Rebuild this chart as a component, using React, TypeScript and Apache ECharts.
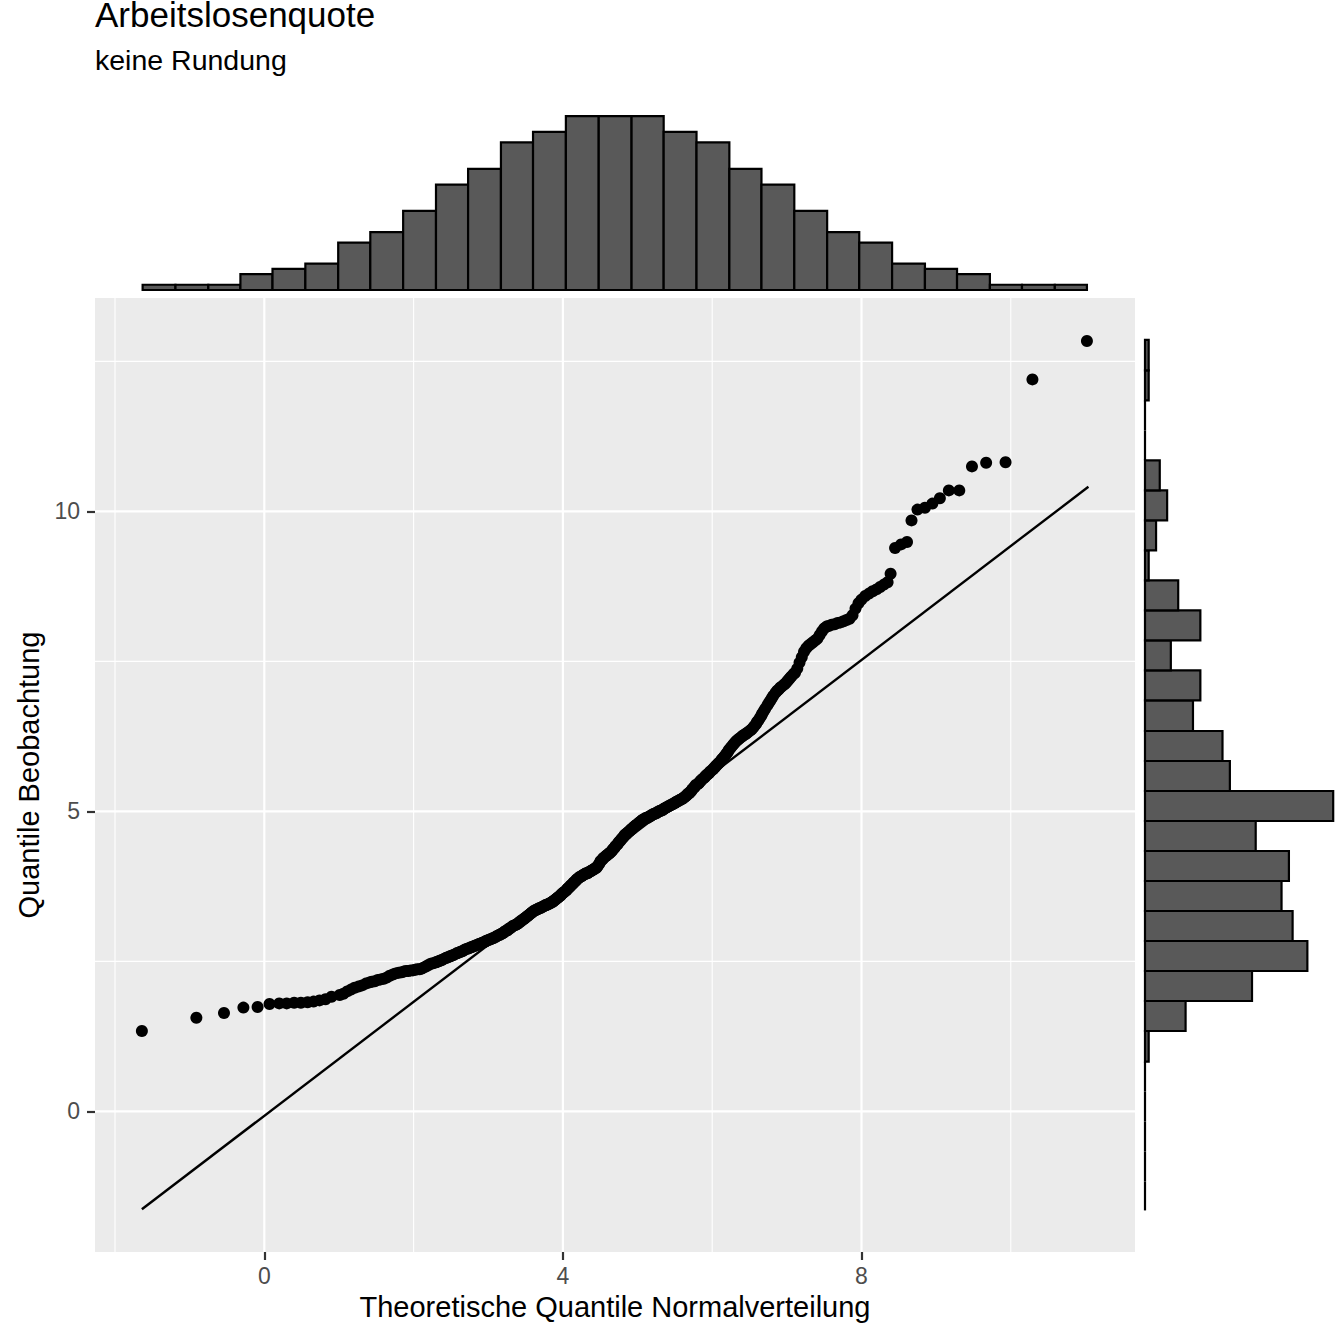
import React, { useEffect, useRef } from "react";
import * as echarts from "echarts";

const FONT = "'Liberation Sans', Arial, Helvetica, sans-serif";

const TITLE = "Arbeitslosenquote";
const SUBTITLE = "keine Rundung";
const X_TITLE = "Theoretische Quantile Normalverteilung";
const Y_TITLE = "Quantile Beobachtung";

// axis ranges and ticks
const xRange = [-2.268, 11.664];
const yRange = [-2.343, 13.557];
const xMajorTicks = [0, 4, 8];
const xMinorTicks = [-2, 2, 6, 10];
const yMajorTicks = [0, 5, 10];
const yMinorTicks = [2.5, 7.5, 12.5];

const theoretical = [
  -1.64,
  -0.91,
  -0.54,
  -0.28, -0.09, 0.07,
  0.20, 0.30, 0.40, 0.49,
  0.58, 0.66, 0.74, 0.82, 0.90,
  1.01, 1.06, 1.11, 1.16, 1.21, 1.26, 1.31, 1.36, 1.41,
  1.44, 1.48, 1.52, 1.56, 1.60, 1.64, 1.68, 1.72, 1.76, 1.80, 1.84,
  1.87, 1.90, 1.93, 1.96, 1.99, 2.02, 2.05, 2.08, 2.11, 2.14, 2.17, 2.20, 2.23, 2.26, 2.29,
  2.31, 2.33, 2.35, 2.37, 2.39, 2.42, 2.44, 2.46, 2.48, 2.50, 2.52, 2.54, 2.57, 2.59, 2.61, 2.63, 2.65, 2.67, 2.69, 2.72,
  2.74, 2.76, 2.78, 2.80, 2.82, 2.84, 2.86, 2.88, 2.90, 2.92, 2.94, 2.96, 2.97, 2.99, 3.01, 3.03, 3.05, 3.07, 3.09, 3.11, 3.13, 3.15, 3.16,
  3.18, 3.19, 3.21, 3.22, 3.24, 3.26, 3.27, 3.29, 3.30, 3.32, 3.33, 3.35, 3.37, 3.38, 3.40, 3.41, 3.43, 3.44, 3.46, 3.48, 3.49, 3.51, 3.52, 3.54, 3.55, 3.57, 3.58, 3.60,
  3.61, 3.63, 3.64, 3.66, 3.67, 3.68, 3.70, 3.71, 3.73, 3.74, 3.76, 3.77, 3.78, 3.80, 3.81, 3.83, 3.84, 3.86, 3.87, 3.88, 3.90, 3.91, 3.93, 3.94, 3.96, 3.97, 3.98, 4.00, 4.01, 4.03,
  4.05, 4.06, 4.07, 4.09, 4.10, 4.11, 4.13, 4.14, 4.15, 4.17, 4.18, 4.19, 4.21, 4.22, 4.23, 4.25, 4.26, 4.27, 4.29, 4.30, 4.31, 4.33, 4.34, 4.35, 4.37, 4.38, 4.39, 4.41, 4.42, 4.43, 4.45, 4.46, 4.47,
  4.49, 4.50, 4.51, 4.53, 4.54, 4.55, 4.57, 4.58, 4.59, 4.61, 4.62, 4.63, 4.65, 4.66, 4.67, 4.69, 4.70, 4.71, 4.73, 4.74, 4.75, 4.77, 4.78, 4.79, 4.81, 4.82, 4.83, 4.85, 4.86, 4.87, 4.89, 4.90, 4.91,
  4.93, 4.94, 4.95, 4.97, 4.98, 4.99, 5.01, 5.02, 5.03, 5.05, 5.06, 5.07, 5.09, 5.10, 5.11, 5.13, 5.14, 5.15, 5.17, 5.18, 5.19, 5.21, 5.22, 5.23, 5.25, 5.26, 5.27, 5.29, 5.30, 5.31, 5.33, 5.34, 5.35,
  5.36, 5.38, 5.39, 5.41, 5.42, 5.44, 5.45, 5.47, 5.48, 5.50, 5.51, 5.52, 5.54, 5.55, 5.57, 5.58, 5.60, 5.61, 5.63, 5.64, 5.66, 5.67, 5.69, 5.70, 5.72, 5.73, 5.74, 5.76, 5.77, 5.78,
  5.80, 5.82, 5.83, 5.85, 5.86, 5.88, 5.90, 5.91, 5.93, 5.94, 5.96, 5.97, 5.99, 6.01, 6.02, 6.04, 6.05, 6.07, 6.08, 6.10, 6.12, 6.13, 6.15, 6.16, 6.18, 6.19, 6.21, 6.22,
  6.24, 6.26, 6.28, 6.30, 6.32, 6.34, 6.36, 6.38, 6.40, 6.41, 6.43, 6.45, 6.47, 6.49, 6.51, 6.53, 6.55, 6.57, 6.59, 6.60, 6.62, 6.64, 6.66,
  6.67, 6.69, 6.71, 6.74, 6.76, 6.78, 6.80, 6.82, 6.85, 6.87, 6.89, 6.91, 6.93, 6.96, 6.98, 7.00, 7.02, 7.04, 7.06, 7.09,
  7.11, 7.14, 7.17, 7.20, 7.23, 7.26, 7.29, 7.32, 7.35, 7.38, 7.41, 7.44, 7.47, 7.50, 7.53,
  7.56, 7.60, 7.64, 7.68, 7.72, 7.76, 7.80, 7.84, 7.88, 7.92, 7.96,
  8.00, 8.05, 8.10, 8.15, 8.20, 8.25, 8.30, 8.35, 8.39,
  8.45, 8.53, 8.61, 8.67, 8.75,
  8.85, 8.95, 9.05, 9.17,
  9.31, 9.48, 9.67,
  9.93,
  10.29,
  11.02,
];

const observed = [
  1.34,
  1.56,
  1.64,
  1.73, 1.74, 1.79,
  1.80, 1.80, 1.81, 1.81,
  1.82, 1.83, 1.85, 1.87, 1.91,
  1.94, 1.96, 2.00, 2.03, 2.06, 2.08, 2.10, 2.13, 2.15,
  2.16, 2.17, 2.19, 2.20, 2.21, 2.23, 2.26, 2.28, 2.30, 2.31, 2.32,
  2.33, 2.34, 2.34, 2.35, 2.35, 2.36, 2.37, 2.37, 2.38, 2.40, 2.42, 2.44, 2.46, 2.47, 2.48,
  2.49, 2.50, 2.51, 2.52, 2.53, 2.55, 2.56, 2.57, 2.58, 2.59, 2.60, 2.61, 2.63, 2.64, 2.65, 2.66, 2.67, 2.68, 2.70, 2.71,
  2.72, 2.73, 2.74, 2.75, 2.76, 2.77, 2.78, 2.79, 2.80, 2.81, 2.82, 2.83, 2.84, 2.85, 2.86, 2.87, 2.88, 2.89, 2.90, 2.92, 2.93, 2.94, 2.95,
  2.96, 2.97, 2.98, 3.00, 3.01, 3.02, 3.04, 3.05, 3.06, 3.08, 3.09, 3.10, 3.11, 3.12, 3.13, 3.15, 3.16, 3.18, 3.19, 3.21, 3.22, 3.24, 3.25, 3.27, 3.28, 3.30, 3.31, 3.33,
  3.34, 3.35, 3.36, 3.37, 3.38, 3.38, 3.39, 3.40, 3.41, 3.42, 3.43, 3.44, 3.44, 3.45, 3.46, 3.47, 3.48, 3.49, 3.50, 3.51, 3.53, 3.54, 3.56, 3.57, 3.59, 3.60, 3.62, 3.64, 3.65, 3.67,
  3.69, 3.71, 3.72, 3.74, 3.76, 3.77, 3.79, 3.81, 3.82, 3.84, 3.86, 3.87, 3.89, 3.90, 3.91, 3.92, 3.93, 3.94, 3.95, 3.96, 3.97, 3.97, 3.98, 3.99, 4.00, 4.01, 4.02, 4.03, 4.04, 4.05, 4.06, 4.08, 4.10,
  4.13, 4.16, 4.18, 4.20, 4.22, 4.23, 4.25, 4.26, 4.27, 4.29, 4.30, 4.31, 4.33, 4.35, 4.37, 4.39, 4.41, 4.43, 4.45, 4.47, 4.49, 4.51, 4.53, 4.55, 4.57, 4.59, 4.61, 4.62, 4.64, 4.65, 4.67, 4.68, 4.70,
  4.71, 4.73, 4.74, 4.76, 4.77, 4.78, 4.80, 4.81, 4.82, 4.84, 4.85, 4.86, 4.87, 4.88, 4.89, 4.89, 4.90, 4.91, 4.92, 4.93, 4.94, 4.95, 4.96, 4.96, 4.97, 4.98, 4.99, 5.00, 5.01, 5.01, 5.02, 5.03, 5.04,
  5.05, 5.06, 5.07, 5.08, 5.09, 5.10, 5.11, 5.12, 5.13, 5.14, 5.15, 5.16, 5.17, 5.18, 5.19, 5.20, 5.21, 5.22, 5.24, 5.25, 5.27, 5.29, 5.30, 5.32, 5.34, 5.36, 5.38, 5.40, 5.42, 5.44,
  5.45, 5.47, 5.49, 5.51, 5.53, 5.55, 5.57, 5.59, 5.61, 5.62, 5.64, 5.66, 5.68, 5.70, 5.72, 5.74, 5.76, 5.78, 5.80, 5.82, 5.85, 5.87, 5.89, 5.91, 5.94, 5.96, 5.99, 6.02,
  6.05, 6.08, 6.11, 6.14, 6.17, 6.19, 6.21, 6.23, 6.25, 6.26, 6.28, 6.29, 6.31, 6.33, 6.35, 6.37, 6.40, 6.43, 6.46, 6.49, 6.52, 6.56, 6.60,
  6.63, 6.67, 6.71, 6.77, 6.81, 6.85, 6.89, 6.93, 6.98, 7.01, 7.03, 7.06, 7.08, 7.11, 7.13, 7.16, 7.19, 7.22, 7.25, 7.29,
  7.31, 7.38, 7.48, 7.57, 7.66, 7.72, 7.76, 7.79, 7.82, 7.85, 7.88, 7.94, 8.00, 8.05, 8.08,
  8.09, 8.11, 8.12, 8.14, 8.15, 8.17, 8.19, 8.21, 8.27, 8.38, 8.47,
  8.53, 8.59, 8.63, 8.67, 8.70, 8.74, 8.78, 8.82, 8.96,
  9.39, 9.45, 9.49, 9.85, 10.03,
  10.06, 10.13, 10.22, 10.35,
  10.35, 10.75, 10.81,
  10.82,
  12.20,
  12.84,
];

// reference (qq) line end points
const refLineStart = [-1.64, -1.63];
const refLineEnd = [11.04, 10.41];

// top marginal histogram (theoretical quantiles)
const topHistEdges = [
  -1.63, -1.19, -0.75, -0.32, 0.11, 0.55, 0.99, 1.42, 1.86, 2.30, 2.73, 3.17, 3.60, 4.04, 4.48,
  4.92, 5.35, 5.79, 6.23, 6.66, 7.10, 7.54, 7.97, 8.41, 8.85, 9.28, 9.72, 10.15, 10.59, 11.02,
];
const topHistCounts = [
  1, 1, 1, 3, 4, 5, 9, 11, 15, 20, 23, 28, 30, 33, 33, 33, 30, 28, 23, 20, 15, 11, 9, 5, 4, 3, 1, 1, 1,
];

// right marginal histogram (observed quantiles), ascending bins
const rightHistEdges = [
  -1.65, -1.17, -0.67, -0.17, 0.33, 0.83, 1.34, 1.84, 2.34, 2.84, 3.34, 3.84, 4.34, 4.84, 5.34,
  5.84, 6.34, 6.85, 7.35, 7.85, 8.35, 8.85, 9.35, 9.85, 10.35, 10.85, 11.35, 11.85, 12.35, 12.86,
];
const rightHistCounts = [
  0, 0, 0, 0, 0, 1, 11, 29, 44, 40, 37, 39, 30, 51, 23, 21, 13, 15, 7, 15, 9, 1, 3, 6, 4, 0, 0, 1, 1,
];

const TOP_HIST_MAX = 36.05;
const RIGHT_HIST_MAX = 51.76;

const BAR_FILL = "#595959";

export default function App() {
  const ref = useRef<HTMLDivElement>(null);

  useEffect(() => {
    if (!ref.current) return;
    const chart = echarts.init(ref.current, null, { renderer: "svg" });

    const points = theoretical.map((x, i) => [x, observed[i]]);
    const topData = topHistCounts.map((c, i) => [topHistEdges[i], topHistEdges[i + 1], c]);
    const rightData = rightHistCounts.map((c, i) => [rightHistEdges[i], rightHistEdges[i + 1], c]);
    const vGrid = [
      ...xMajorTicks.map((v) => [v, 1]),
      ...xMinorTicks.map((v) => [v, 0]),
    ];
    const hGrid = [
      ...yMajorTicks.map((v) => [v, 1]),
      ...yMinorTicks.map((v) => [v, 0]),
    ];

    const option: any = {
      animation: false,
      backgroundColor: "#FFFFFF",
      textStyle: { fontFamily: FONT },
      title: [
        {
          text: TITLE,
          left: 95,
          top: -3,
          padding: 0,
          textStyle: { fontSize: 35, fontWeight: "normal", color: "#000000", fontFamily: FONT },
        },
        {
          text: SUBTITLE,
          left: 95,
          top: 45,
          padding: 0,
          textStyle: { fontSize: 28.5, fontWeight: "normal", color: "#000000", fontFamily: FONT },
        },
      ],
      grid: [
        { left: 95, right: 209, top: 298, bottom: 92, show: true, backgroundColor: "#EBEBEB", borderWidth: 0 },
        { left: 95, right: 209, top: 100, height: 190, show: false },
        { left: 1145, width: 191, top: 298, bottom: 92, show: false },
      ],
      xAxis: [
        {
          gridIndex: 0,
          type: "value",
          position: "bottom",
          min: xRange[0],
          max: xRange[1],
          axisLine: { show: false, onZero: false },
          axisTick: {
            show: true,
            customValues: xMajorTicks,
            length: 8,
            lineStyle: { color: "#333333", width: 2.2 },
          },
          axisLabel: {
            customValues: xMajorTicks,
            color: "#4D4D4D",
            fontSize: 23,
            margin: 12,
            fontFamily: FONT,
          },
          splitLine: { show: false },
          name: X_TITLE,
          nameLocation: "middle",
          nameGap: 40,
          nameTextStyle: { fontSize: 29, color: "#000000", fontFamily: FONT },
        },
        { gridIndex: 1, type: "value", min: xRange[0], max: xRange[1], show: false },
        { gridIndex: 2, type: "value", min: 0, max: RIGHT_HIST_MAX, show: false },
      ],
      yAxis: [
        {
          gridIndex: 0,
          type: "value",
          position: "left",
          min: yRange[0],
          max: yRange[1],
          axisLine: { show: false, onZero: false },
          axisTick: {
            show: true,
            customValues: yMajorTicks,
            length: 8,
            lineStyle: { color: "#333333", width: 2.2 },
          },
          axisLabel: {
            customValues: yMajorTicks,
            color: "#4D4D4D",
            fontSize: 23,
            margin: 15,
            fontFamily: FONT,
          },
          splitLine: { show: false },
          name: Y_TITLE,
          nameLocation: "middle",
          nameGap: 51,
          nameRotate: 90,
          nameTextStyle: { fontSize: 29, color: "#000000", fontFamily: FONT },
        },
        { gridIndex: 1, type: "value", min: 0, max: TOP_HIST_MAX, show: false },
        { gridIndex: 2, type: "value", min: yRange[0], max: yRange[1], show: false },
      ],
      series: [
        {
          type: "custom",
          name: "vgrid",
          xAxisIndex: 0,
          yAxisIndex: 0,
          z: 1,
          silent: true,
          clip: false,
          data: vGrid,
          encode: { x: 0 },
          renderItem: (_p: any, api: any) => {
            const v = api.value(0);
            const major = api.value(1) === 1;
            const p0 = api.coord([v, yRange[0]]);
            const p1 = api.coord([v, yRange[1]]);
            return {
              type: "line",
              shape: { x1: p0[0], y1: p0[1], x2: p1[0], y2: p1[1] },
              style: { stroke: "#FFFFFF", lineWidth: major ? 2.2 : 1.1 },
            };
          },
        },
        {
          type: "custom",
          name: "hgrid",
          xAxisIndex: 0,
          yAxisIndex: 0,
          z: 1,
          silent: true,
          clip: false,
          data: hGrid,
          encode: { y: 0 },
          renderItem: (_p: any, api: any) => {
            const v = api.value(0);
            const major = api.value(1) === 1;
            const p0 = api.coord([xRange[0], v]);
            const p1 = api.coord([xRange[1], v]);
            return {
              type: "line",
              shape: { x1: p0[0], y1: p0[1], x2: p1[0], y2: p1[1] },
              style: { stroke: "#FFFFFF", lineWidth: major ? 2.2 : 1.1 },
            };
          },
        },
        {
          type: "scatter",
          name: "points",
          xAxisIndex: 0,
          yAxisIndex: 0,
          z: 3,
          symbol: "circle",
          symbolSize: 12,
          itemStyle: { color: "#000000", opacity: 1 },
          data: points,
        },
        {
          type: "line",
          name: "qqline",
          xAxisIndex: 0,
          yAxisIndex: 0,
          z: 4,
          symbol: "none",
          lineStyle: { color: "#000000", width: 2.4 },
          data: [refLineStart, refLineEnd],
        },
        {
          type: "custom",
          name: "topHist",
          xAxisIndex: 1,
          yAxisIndex: 1,
          z: 2,
          clip: false,
          data: topData,
          encode: { x: [0, 1], y: 2 },
          renderItem: (_p: any, api: any) => {
            const x0 = api.value(0);
            const x1 = api.value(1);
            const c = api.value(2);
            const a = api.coord([x0, c]);
            const b = api.coord([x1, 0]);
            return {
              type: "rect",
              shape: { x: a[0], y: a[1], width: b[0] - a[0], height: b[1] - a[1] },
              style: { fill: BAR_FILL, stroke: "#000000", lineWidth: 2.2 },
            };
          },
        },
        {
          type: "custom",
          name: "rightHist",
          xAxisIndex: 2,
          yAxisIndex: 2,
          z: 2,
          clip: false,
          data: rightData,
          encode: { y: [0, 1], x: 2 },
          renderItem: (_p: any, api: any) => {
            const y0 = api.value(0);
            const y1 = api.value(1);
            const c = api.value(2);
            if (c === 0) {
              const p0 = api.coord([0, y0]);
              const p1 = api.coord([0, y1]);
              return {
                type: "line",
                shape: { x1: p0[0], y1: p0[1], x2: p1[0], y2: p1[1] },
                style: { stroke: "#000000", lineWidth: 2.2 },
              };
            }
            const a = api.coord([0, y1]);
            const b = api.coord([c, y0]);
            return {
              type: "rect",
              shape: { x: a[0], y: a[1], width: b[0] - a[0], height: b[1] - a[1] },
              style: { fill: BAR_FILL, stroke: "#000000", lineWidth: 2.2 },
            };
          },
        },
      ],
    };

    chart.setOption(option);
    return () => {
      chart.dispose();
    };
  }, []);

  return (
    <div
      ref={ref}
      style={{ position: "absolute", left: 0, top: 0, width: 1344, height: 1344, background: "#FFFFFF" }}
    />
  );
}
